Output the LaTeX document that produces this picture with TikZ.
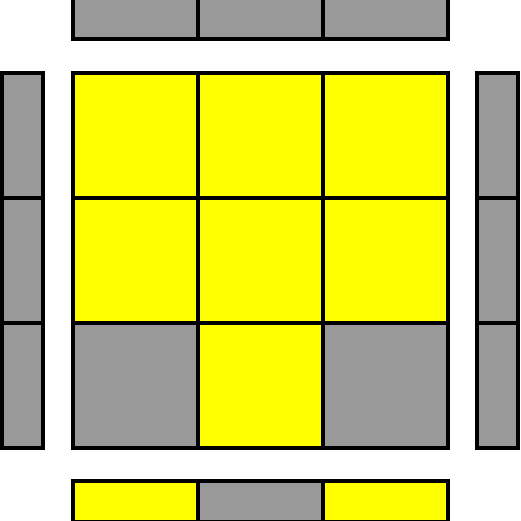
\documentclass[tikz,border=0pt]{standalone}
\definecolor{cgray}{RGB}{153,153,153}
\definecolor{cyel}{RGB}{255,255,0}
\begin{document}
\begin{tikzpicture}[x=1pt,y=-1pt,
  face/.style={draw=black,line width=4pt},
  G/.style={face,fill=cgray},
  Y/.style={face,fill=cyel}]
\useasboundingbox (0,0) rectangle (521,521);
% main grid
\foreach \r/\c/\s in {0/0/Y,0/1/Y,0/2/Y,1/0/Y,1/1/Y,1/2/Y,2/0/G,2/1/Y,2/2/G}{
  \path[\s] ({73+125*\c},{73+125*\r}) rectangle ++(125,125);
}
% top strip
\foreach \c/\s in {0/G,1/G,2/G}{
  \path[\s] ({73+125*\c},-2) rectangle ++(125,41);
}
% bottom strip
\foreach \c/\s in {0/Y,1/G,2/Y}{
  \path[\s] ({73+125*\c},481) rectangle ++(125,41);
}
% left strip
\foreach \r/\s in {0/G,1/G,2/G}{
  \path[\s] (2,{73+125*\r}) rectangle ++(41,125);
}
% right strip
\foreach \r/\s in {0/G,1/G,2/G}{
  \path[\s] (477,{73+125*\r}) rectangle ++(41,125);
}
\end{tikzpicture}
\end{document}
